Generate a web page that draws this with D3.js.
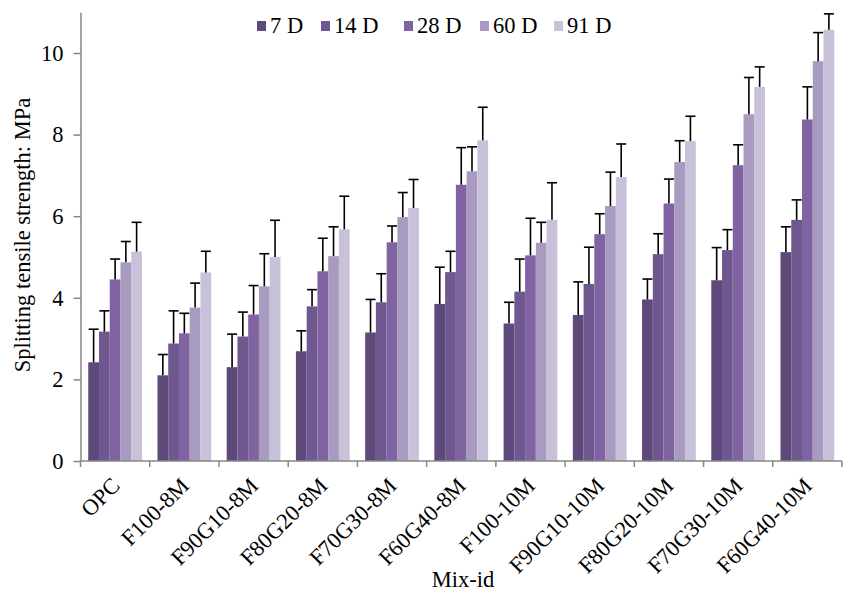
<!DOCTYPE html>
<html>
<head>
<meta charset="utf-8">
<script src="https://cdn.jsdelivr.net/npm/d3@7"></script>
<style>
  html, body { margin: 0; padding: 0; background: #fff; }
  svg { display: block; }
  svg text { font-family: "Liberation Serif", "Times New Roman", serif; }
</style>
</head>
<body>
<svg id="chart" width="843" height="592"></svg>
<script>
// Mix designs along the x axis
const categories = ["OPC", "F100-8M", "F90G10-8M", "F80G20-8M", "F70G30-8M", "F60G40-8M",
                    "F100-10M", "F90G10-10M", "F80G20-10M", "F70G30-10M", "F60G40-10M"];
const seriesNames = ["7 D", "14 D", "28 D", "60 D", "91 D"];

// Mean splitting tensile strength (MPa) per curing age
const d7  = [2.42, 2.10, 2.30, 2.69, 3.15, 3.85, 3.37, 3.58, 3.96, 4.43, 5.12];
const d14 = [3.17, 2.88, 3.05, 3.79, 3.89, 4.63, 4.15, 4.34, 5.07, 5.17, 5.91];
const d28 = [4.45, 3.13, 3.59, 4.65, 5.36, 6.77, 5.04, 5.56, 6.31, 7.25, 8.37];
const d60 = [4.87, 3.76, 4.28, 5.02, 5.98, 7.10, 5.35, 6.25, 7.33, 8.50, 9.80];
const d91 = [5.13, 4.62, 5.00, 5.68, 6.20, 7.86, 5.91, 6.96, 7.84, 9.17, 10.57];

// Error bar half-widths (MPa)
const e7  = [0.81, 0.51, 0.81, 0.50, 0.81, 0.90, 0.52, 0.81, 0.50, 0.80, 0.62];
const e14 = [0.51, 0.80, 0.60, 0.41, 0.70, 0.51, 0.80, 0.90, 0.50, 0.50, 0.49];
const e28 = [0.50, 0.49, 0.71, 0.81, 0.40, 0.91, 0.91, 0.50, 0.60, 0.50, 0.80];
const e60 = [0.51, 0.60, 0.80, 0.72, 0.60, 0.60, 0.50, 0.83, 0.52, 0.90, 0.70];
const e91 = [0.72, 0.52, 0.90, 0.81, 0.70, 0.81, 0.91, 0.81, 0.61, 0.49, 0.39];

const yTicks = [0, 2, 4, 6, 8, 10];
const colors = ["#5f497a", "#6f5890", "#8064a2", "#a99abf", "#c9c0da"];

const values = [d7, d14, d28, d60, d91];
const errors = [e7, e14, e28, e60, e91];

const rows = [];
categories.forEach((c, i) => {
  seriesNames.forEach((s, j) => {
    rows.push({ cat: c, series: s, value: values[j][i], err: errors[j][i], color: colors[j] });
  });
});

const svg = d3.select("#chart");
const plotLeft = 80.5, plotRight = 842, plotTop = 12.2, plotBottom = 461;
const fontFamily = "Liberation Serif, Times New Roman, serif";
const fontSize = 22.5;

const x0 = d3.scaleBand().domain(categories).range([plotLeft, plotRight]).paddingInner(0).paddingOuter(0);
const x1 = d3.scaleBand().domain(seriesNames).range([0, x0.bandwidth()]).paddingInner(0).paddingOuter(0.72);
const y = d3.scaleLinear().domain([0, 11]).range([plotBottom, plotTop]);

const axisColor = "#868686";

// Bars
svg.append("g").selectAll("rect").data(rows).join("rect")
  .attr("x", d => x0(d.cat) + x1(d.series))
  .attr("y", d => y(d.value))
  .attr("width", x1.bandwidth())
  .attr("height", d => y(0) - y(d.value))
  .attr("fill", d => d.color);

// Error bars (upper whisker with cap)
const cap = 5;
const eb = svg.append("g").attr("stroke", "#000").attr("stroke-width", 1.6);
rows.forEach(d => {
  const cx = x0(d.cat) + x1(d.series) + x1.bandwidth() / 2;
  eb.append("line").attr("x1", cx).attr("x2", cx).attr("y1", y(d.value)).attr("y2", y(d.value + d.err));
  eb.append("line").attr("x1", cx - cap).attr("x2", cx + cap).attr("y1", y(d.value + d.err)).attr("y2", y(d.value + d.err));
});

// Y axis
const yAxis = svg.append("g").attr("transform", `translate(${plotLeft},0)`)
  .call(d3.axisLeft(y).tickValues(yTicks).tickSize(7).tickSizeOuter(0).tickFormat(d3.format("d")));
yAxis.select(".domain").attr("stroke", axisColor).attr("stroke-width", 1.5);
yAxis.selectAll(".tick line").attr("stroke", axisColor).attr("stroke-width", 1.5);
yAxis.selectAll(".tick text").attr("font-size", fontSize).attr("fill", "#000").attr("x", -17)
  .attr("font-family", fontFamily);

// X axis: ticks at category boundaries
const xAxis = svg.append("g");
xAxis.append("line").attr("x1", plotLeft).attr("x2", plotRight).attr("y1", plotBottom).attr("y2", plotBottom)
  .attr("stroke", axisColor).attr("stroke-width", 1.5);
const bounds = categories.map(c => x0(c)).concat([plotRight]);
xAxis.selectAll("line.tk").data(bounds).join("line").attr("class", "tk")
  .attr("x1", d => d).attr("x2", d => d).attr("y1", plotBottom).attr("y2", plotBottom + 6)
  .attr("stroke", axisColor).attr("stroke-width", 1.5);

xAxis.selectAll("text").data(categories).join("text")
  .attr("transform", d => `translate(${x0(d) + x0.bandwidth() / 2 + 6},${plotBottom + 26}) rotate(-45)`)
  .attr("text-anchor", "end")
  .attr("font-size", fontSize)
  .attr("font-family", fontFamily)
  .attr("fill", "#000")
  .text(d => d);

// Axis titles
svg.append("text")
  .attr("transform", `translate(30,235) rotate(-90)`)
  .attr("text-anchor", "middle")
  .attr("font-size", fontSize)
  .attr("font-family", fontFamily)
  .attr("fill", "#000")
  .text("Splitting tensile strength: MPa");

svg.append("text")
  .attr("x", 463).attr("y", 587)
  .attr("text-anchor", "middle")
  .attr("font-size", fontSize)
  .attr("font-family", fontFamily)
  .attr("fill", "#000")
  .text("Mix-id");

// Legend
const legendX = [257, 321, 404, 480, 554];
const lg = svg.append("g");
seriesNames.forEach((s, j) => {
  lg.append("rect").attr("x", legendX[j]).attr("y", 21).attr("width", 9).attr("height", 10).attr("fill", colors[j]);
  lg.append("text").attr("x", legendX[j] + 13).attr("y", 33)
    .attr("font-size", fontSize).attr("font-family", fontFamily).attr("fill", "#000").text(s);
});
</script>
</body>
</html>
